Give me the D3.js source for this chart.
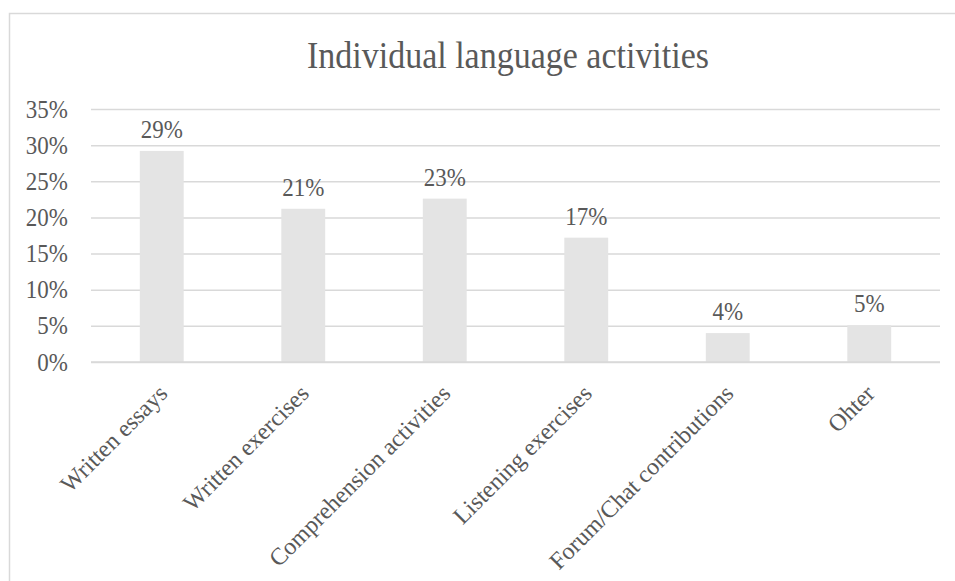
<!DOCTYPE html>
<html>
<head>
<meta charset="utf-8">
<script src="https://cdn.jsdelivr.net/npm/d3@7"></script>
<style>
  html, body { margin: 0; padding: 0; background: #fff; }
  svg { display: block; }
  text { font-family: "Liberation Serif", "Times New Roman", serif; fill: #595959; }
</style>
</head>
<body>
<svg id="chart" width="955" height="581"></svg>
<script>
const categories = ["Written essays", "Written exercises", "Comprehension activities", "Listening exercises", "Forum/Chat contributions", "Ohter"];
const values = [0.292, 0.212, 0.226, 0.172, 0.040, 0.051];
const labels = ["29%", "21%", "23%", "17%", "4%", "5%"];
const yTicks = [0, 0.05, 0.10, 0.15, 0.20, 0.25, 0.30, 0.35];
const title = "Individual language activities";

const svg = d3.select("#chart");
const plot = { left: 91, right: 940, top: 109, bottom: 362 };
const SY = 1.12; // vertical stretch of glyphs seen in the reference

svg.append("rect")
  .attr("x", 9.5).attr("y", 13.5)
  .attr("width", 1000).attr("height", 1000)
  .attr("fill", "none").attr("stroke", "#d9d9d9").attr("stroke-width", 1.5);

svg.append("text")
  .attr("transform", `translate(508,68) scale(1,${SY})`)
  .attr("text-anchor", "middle")
  .style("font-size", "34px")
  .text(title);

const x = d3.scaleBand().domain(categories)
  .range([plot.left, plot.right])
  .paddingInner(0.69).paddingOuter(0.345);
const y = d3.scaleLinear().domain([0, 0.35]).range([plot.bottom, plot.top]);

const grid = svg.append("g")
  .attr("transform", `translate(${plot.left},0)`)
  .call(d3.axisLeft(y).tickValues(yTicks).tickSize(-(plot.right - plot.left)).tickFormat(""));
grid.select(".domain").remove();
grid.selectAll("line").attr("stroke", "#d9d9d9").attr("stroke-width", 1.5);

const yAxis = svg.append("g")
  .attr("transform", `translate(68,0)`)
  .call(d3.axisLeft(y).tickValues(yTicks).tickSize(0).tickPadding(0).tickFormat(d3.format(".0%")));
yAxis.select(".domain").remove();
yAxis.selectAll(".tick text")
  .style("font-size", "23px")
  .attr("fill", "#595959")
  .attr("font-family", "Liberation Serif, Times New Roman, serif")
  .attr("x", 0).attr("dy", 0)
  .attr("transform", `translate(0,8) scale(1,${SY})`);

svg.append("g").selectAll("rect")
  .data(values)
  .join("rect")
  .attr("x", (d, i) => x(categories[i]))
  .attr("width", x.bandwidth())
  .attr("y", d => y(d))
  .attr("height", d => y(0) - y(d))
  .attr("fill", "#e4e4e4");

svg.append("line")
  .attr("x1", plot.left).attr("x2", plot.right)
  .attr("y1", y(0)).attr("y2", y(0))
  .attr("stroke", "#d9d9d9").attr("stroke-width", 1.5);

svg.append("g").selectAll("text")
  .data(values)
  .join("text")
  .attr("transform", (d, i) => `translate(${x(categories[i]) + x.bandwidth() / 2},${y(d) - 13}) scale(1,${SY})`)
  .attr("text-anchor", "middle")
  .style("font-size", "23px")
  .text((d, i) => labels[i]);

const xAxis = svg.append("g")
  .attr("transform", `translate(0,${plot.bottom})`)
  .call(d3.axisBottom(x).tickSize(0).tickPadding(0));
xAxis.select(".domain").remove();
xAxis.selectAll("text")
  .style("font-size", "24px")
  .attr("fill", "#595959")
  .attr("font-family", "Liberation Serif, Times New Roman, serif")
  .attr("text-anchor", "end")
  .attr("y", 0).attr("dy", 0)
  .attr("transform", "translate(7,33) rotate(-45)");
</script>
</body>
</html>
